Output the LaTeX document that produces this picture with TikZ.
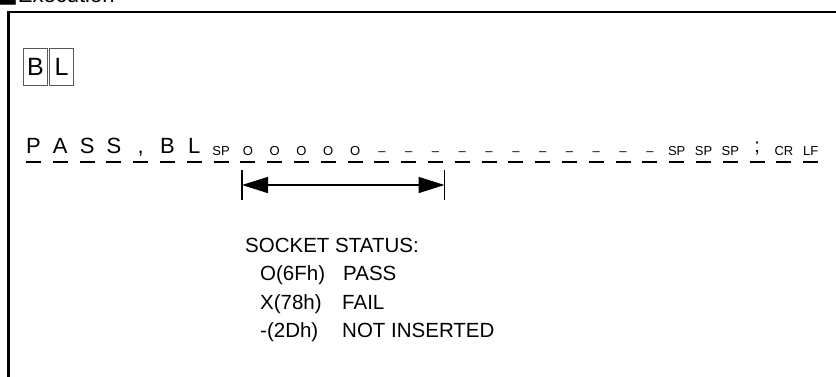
\documentclass[tikz,border=0pt]{standalone}
\usepackage{fontspec}
\setmainfont{Liberation Sans}
\newfontfamily\symfont{DejaVu Sans}
\usetikzlibrary{arrows.meta}

\tikzset{
  big/.style={font=\fontsize{22}{24}\selectfont, anchor=base, inner sep=0pt},
  small/.style={font=\fontsize{13}{15}\selectfont, anchor=base, inner sep=0pt},
  uline/.style={line width=1.7pt},
  keybox/.style={draw=black!65, line width=0.8pt, minimum width=24pt, minimum height=37pt,
    inner sep=0pt, font=\fontsize{25}{27}\selectfont},
  status/.style={font=\fontsize{20.5}{24}\selectfont, anchor=base west, inner sep=0pt},
}

\begin{document}
\begin{tikzpicture}[x=1pt, y=-1pt, >={Triangle[length=26pt, width=16pt]}]
    \useasboundingbox (0,0) rectangle (836,376);

    % heading, cut off by the top edge
    \begin{scope}
        \clip (0,0) rectangle (836,376);
        \node[anchor=base west, inner sep=0pt, font=\fontsize{22}{24}\selectfont] (title) at (-3,2) {{\symfont ■}Execution};
    \end{scope}

    % frame
    \draw[line width=2.7pt] (8.5,380) -- (8.5,12) -- (840,12);

    % command keys
    \node[keybox] (kB) at (35.5,67) {B};
    \node[keybox] (kL) at (61.5,67) {L};

    % response string
    \foreach \t [count=\k from 0] in {P,A,S,S,{,},B,L}
        \node[big] (c\k) at ({33.5+26.8*\k},153) {\t};
    \foreach \t [count=\k from 7] in {SP,O,O,O,O,O,–,–,–,–,–,–,–,–,–,–,–,SP,SP,SP}
        \node[small] (c\k) at ({33.5+26.8*\k},155) {\t};
    \node[big, font=\fontsize{20}{22}\selectfont] (c27) at ({33.5+26.8*27},152) {;};
    \node[small] (c28) at ({33.5+26.8*28},155) {CR};
    \node[small] (c29) at ({33.5+26.8*29},155) {LF};
    \foreach \k in {0,...,29}
        \draw[uline] ({26+26.8*\k},162) -- ({41+26.8*\k},162);

    % span of the socket characters
    \coordinate (aL) at (242,185);
    \coordinate (aR) at (444.5,185);
    \draw[line width=1.1pt] (aL) ++(0,-15) -- ++(0,30);
    \draw[line width=1.1pt] (aR) ++(0,-15) -- ++(0,30);
    \draw[<->, line width=1.5pt] (aL) -- (aR);

    % legend
    \node[status] (hd) at (245,252) {SOCKET STATUS:};
    \node[status] (s1) at (260,280) {O(6Fh)};
    \node[status] (p1) at (343,280) {PASS};
    \node[status] (s2) at (260,309) {X(78h)};
    \node[status] (p2) at (342,309) {FAIL};
    \node[status] (s3) at (260,337) {-(2Dh)};
    \node[status] (p3) at (342,337) {NOT INSERTED};
\end{tikzpicture}
\end{document}
